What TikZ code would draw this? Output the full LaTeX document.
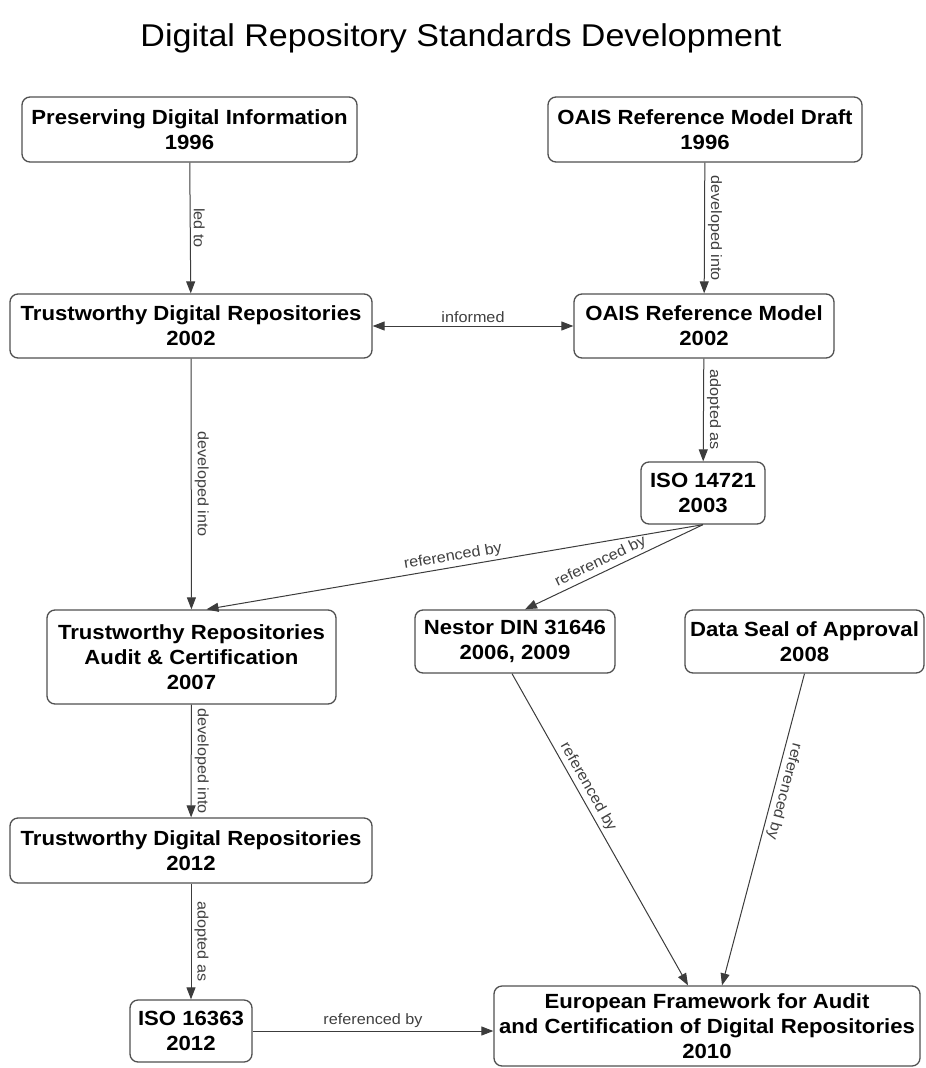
\documentclass[tikz,border=0pt]{standalone}
\usepackage{fontspec}
\setmainfont[FakeStretch=1.08]{Liberation Sans}
\definecolor{boxGray}{HTML}{505050}
\definecolor{lineGray}{HTML}{3C3C3C}
\usetikzlibrary{arrows.meta, positioning, calc}

\begin{document}
\begin{tikzpicture}[
    x=1pt, y=-1pt,
    stdbox/.style={rectangle, draw=boxGray, fill=white, line width=1.3pt, rounded corners=8pt,
                   align=center, inner sep=0pt, font=\fontsize{20.5}{25}\selectfont\bfseries},
    arrow/.style={-{Triangle[length=12pt,width=9pt]}, line width=1pt, lineGray},
    darrow/.style={{Triangle[length=12pt,width=9pt]}-{Triangle[length=12pt,width=9pt]}, line width=1pt, lineGray},
    lbl/.style={font=\fontsize{15}{18}\selectfont, text=black!75, inner sep=3pt}
]
    \useasboundingbox (0,0) rectangle (926,1068);
    \node[font=\fontsize{31.5}{36}\selectfont] (title) at (461,38) {Digital Repository Standards Development};

    \node[stdbox, minimum width=335pt, minimum height=65pt] (pdi)    at (189.5,129.5) {Preserving Digital Information\\1996};
    \node[stdbox, minimum width=314pt, minimum height=65pt] (oaisd)  at (705,129.5)   {OAIS Reference Model Draft\\1996};
    \node[stdbox, minimum width=362pt, minimum height=64pt] (tdr02)  at (191,326)     {Trustworthy Digital Repositories\\2002};
    \node[stdbox, minimum width=260pt, minimum height=64pt] (oais02) at (704,326)     {OAIS Reference Model\\2002};
    \node[stdbox, minimum width=124pt, minimum height=62pt] (iso14)  at (703,493)     {ISO 14721\\2003};
    \node[stdbox, minimum width=289pt, minimum height=94pt] (trac)   at (191.5,657)   {Trustworthy Repositories\\Audit \& Certification\\2007};
    \node[stdbox, minimum width=200pt, minimum height=63pt] (nestor) at (515,641.5)   {Nestor DIN 31646\\2006, 2009};
    \node[stdbox, minimum width=239pt, minimum height=63pt] (dsa)    at (804.5,641.5) {Data Seal of Approval\\2008};
    \node[stdbox, minimum width=362pt, minimum height=65pt] (tdr12)  at (191,850.5)   {Trustworthy Digital Repositories\\2012};
    \node[stdbox, minimum width=122pt, minimum height=62pt] (iso16)  at (191,1031)    {ISO 16363\\2012};
    \node[stdbox, minimum width=426pt, minimum height=80pt] (efa)    at (707,1026)    {European Framework for Audit\\and Certification of Digital Repositories\\2010};

    \draw[arrow] (pdi) -- node[lbl, above, rotate=-90]{led to} (tdr02);
    \draw[arrow] (oaisd) -- node[lbl, above, rotate=-90]{developed into} (oais02);
    \draw[darrow] (tdr02) -- node[lbl, above]{informed} (oais02);
    \draw[arrow] (oais02) -- node[lbl, above, rotate=-90]{adopted as} (iso14);
    \draw[arrow] (tdr02) -- node[lbl, above, rotate=-90]{developed into} (trac);
    \draw[arrow] (iso14.south) -- node[lbl, above, sloped]{referenced by} ([xshift=15pt]trac.north);
    \draw[arrow] (iso14.south) -- node[lbl, above, sloped, pos=0.55]{referenced by} ([xshift=10pt]nestor.north);
    \draw[arrow] (trac) -- node[lbl, above, rotate=-90]{developed into} (tdr12);
    \draw[arrow] (tdr12) -- node[lbl, above, rotate=-90]{adopted as} (iso16);
    \draw[arrow] ([xshift=-3pt]nestor.south) -- node[lbl, above, sloped, pos=0.38]{referenced by} ([xshift=-19pt]efa.north);
    \draw[arrow] (dsa.south) -- node[lbl, above, sloped, allow upside down, pos=0.37]{referenced by} ([xshift=15pt]efa.north);
    \draw[arrow] (iso16.east) -- node[lbl, above]{referenced by} (iso16.east -| efa.west);
\end{tikzpicture}
\end{document}
